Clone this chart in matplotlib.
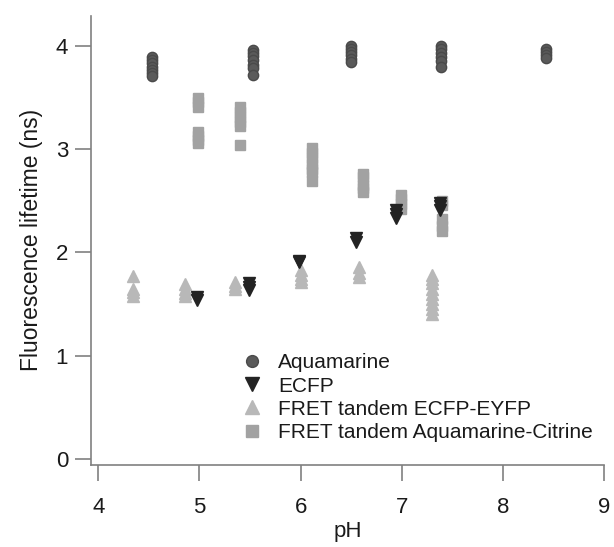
import matplotlib
matplotlib.use("Agg")
import matplotlib.pyplot as plt

plt.rcParams['font.family'] = ['Liberation Sans', 'DejaVu Sans']

# Aquamarine (circles)
aqua_ph = [4.53] * 7 + [5.53] * 7 + [6.50] * 6 + [7.39] * 6 + [8.43] * 4
aqua_tau = [3.89, 3.86, 3.83, 3.80, 3.77, 3.74, 3.71,
            3.96, 3.93, 3.90, 3.86, 3.82, 3.79, 3.72,
            4.00, 3.97, 3.94, 3.91, 3.87, 3.84,
            4.00, 3.97, 3.93, 3.89, 3.85, 3.80,
            3.97, 3.94, 3.91, 3.88]

# ECFP (down triangles)
ecfp_ph = [4.98] * 2 + [5.49] * 3 + [5.98] * 2 + [6.55] * 2 + [6.94] * 3 + [7.38] * 3
ecfp_tau = [1.57, 1.54,
            1.70, 1.67, 1.64,
            1.92, 1.91,
            2.14, 2.10,
            2.41, 2.37, 2.33,
            2.48, 2.45, 2.41]

# FRET tandem ECFP-EYFP (up triangles)
fret1_ph = [4.34] * 4 + [4.86] * 4 + [5.35] * 3 + [6.00] * 4 + [6.58] * 3 + [7.30] * 9
fret1_tau = [1.77, 1.65, 1.62, 1.58,
             1.69, 1.65, 1.61, 1.58,
             1.71, 1.68, 1.65,
             1.83, 1.78, 1.74, 1.71,
             1.86, 1.80, 1.76,
             1.78, 1.74, 1.70, 1.65, 1.60, 1.55, 1.50, 1.45, 1.40]

# FRET tandem Aquamarine-Citrine (squares)
fret2_ph = [4.99] * 7 + [5.40] * 6 + [6.11] * 7 + [6.62] * 5 + [6.99] * 4 + [7.40] * 5
fret2_tau = [3.50, 3.46, 3.41, 3.17, 3.13, 3.09, 3.06,
             3.41, 3.36, 3.31, 3.26, 3.22, 3.04,
             3.01, 2.96, 2.91, 2.86, 2.81, 2.78, 2.69,
             2.76, 2.73, 2.65, 2.62, 2.59,
             2.56, 2.52, 2.47, 2.42,
             2.50, 2.46, 2.32, 2.26, 2.21]

x_ticks = [4, 5, 6, 7, 8, 9]
y_ticks = [0, 1, 2, 3, 4]

fig = plt.figure(figsize=(6.14, 5.47), dpi=100)
ax = fig.add_axes([0.1482, 0.1508, 0.8355, 0.82])

ax.plot(aqua_ph, aqua_tau, 'o', ms=7.4, color='#5a5a5a', mec='#4a4a4a',
        label='Aquamarine', zorder=3)
ax.plot(ecfp_ph, ecfp_tau, 'v', ms=9, color='#232323', mec='#232323',
        label='ECFP', zorder=5)
ax.plot(fret1_ph, fret1_tau, '^', ms=9, color='#b8b8b8', mec='#b8b8b8',
        label='FRET tandem ECFP-EYFP', zorder=3)
ax.plot(fret2_ph, fret2_tau, 's', ms=7, color='#a2a2a2', mec='#a2a2a2',
        label='FRET tandem Aquamarine-Citrine', zorder=4)

ax.set_xlim(3.928, 9.0)
ax.set_ylim(-0.053, 4.29)
ax.set_xticks(x_ticks)
ax.set_yticks(y_ticks)

for side in ['top', 'right']:
    ax.spines[side].set_visible(False)
for side in ['left', 'bottom']:
    ax.spines[side].set_color('#808080')
    ax.spines[side].set_linewidth(1.2)

ax.tick_params(axis='both', direction='out', length=11.5, width=1.2,
               color='#808080', labelsize=16, labelcolor='#1a1a1a')
ax.tick_params(axis='y', pad=5)
ax.tick_params(axis='x', pad=12)

ax.set_xlabel('pH', fontsize=16, color='#1a1a1a', labelpad=2)
ax.set_ylabel('Fluorescence lifetime (ns)', fontsize=16.5, color='#1a1a1a', labelpad=9)

fig.legend(loc='upper left', bbox_to_anchor=(0.394, 0.354), frameon=False,
           fontsize=15, borderpad=0, borderaxespad=0, handlelength=1.0,
           handletextpad=0.75, labelspacing=0.2, markerscale=1.15,
           labelcolor='#1a1a1a')

fig.savefig('out.png', dpi=100)
